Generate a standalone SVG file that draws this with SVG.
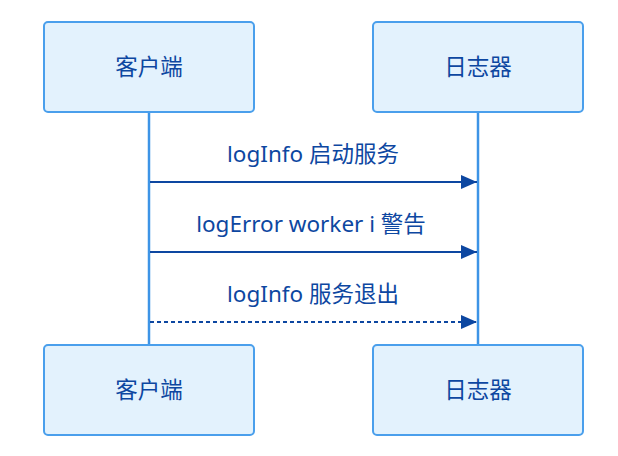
<svg xmlns="http://www.w3.org/2000/svg" width="618" height="456" viewBox="0 0 618 456">
<defs>
<style>
.box{fill:#e3f2fd;stroke:#4a9fec;stroke-width:2}
.lt{font-family:"Noto Sans","Noto Sans CJK SC",sans-serif;font-size:22.5px;fill:#0d47a1;text-anchor:middle}
.life{stroke:#3d94e6;stroke-width:2.5}
.msg{stroke:#0d47a1;stroke-width:2;fill:none}
</style>
<marker id="ah" viewBox="0 0 16 14" refX="16" refY="7" markerWidth="16" markerHeight="14" markerUnits="userSpaceOnUse" orient="auto">
<path d="M0,0 L16,7 L0,14 Z" fill="#0d47a1"/>
</marker>
</defs>
<g id="lifelines">
<line class="life" x1="149" y1="112" x2="149" y2="345"/>
<line class="life" x1="478" y1="112" x2="478" y2="345"/>
</g>
<g id="client-top"><rect class="box" x="44" y="22" width="210" height="90" rx="4"/><text class="lt" x="149" y="75">客户端</text></g>
<g id="logger-top"><rect class="box" x="373" y="22" width="210" height="90" rx="4"/><text class="lt" x="478" y="75">日志器</text></g>
<g id="client-bottom"><rect class="box" x="44" y="345" width="210" height="90" rx="4"/><text class="lt" x="149" y="398">客户端</text></g>
<g id="logger-bottom"><rect class="box" x="373" y="345" width="210" height="90" rx="4"/><text class="lt" x="478" y="398">日志器</text></g>
<g id="connectors">
<line class="msg" x1="150" y1="182" x2="477" y2="182" marker-end="url(#ah)"/>
<line class="msg" x1="150" y1="252" x2="477" y2="252" marker-end="url(#ah)"/>
<line class="msg" x1="150" y1="322" x2="477" y2="322" stroke-dasharray="4,3" marker-end="url(#ah)"/>
<text class="lt" x="313" y="162">logInfo 启动服务</text>
<text class="lt" x="311" y="232">logError worker i 警告</text>
<text class="lt" x="313" y="302">logInfo 服务退出</text>
</g>
</svg>
